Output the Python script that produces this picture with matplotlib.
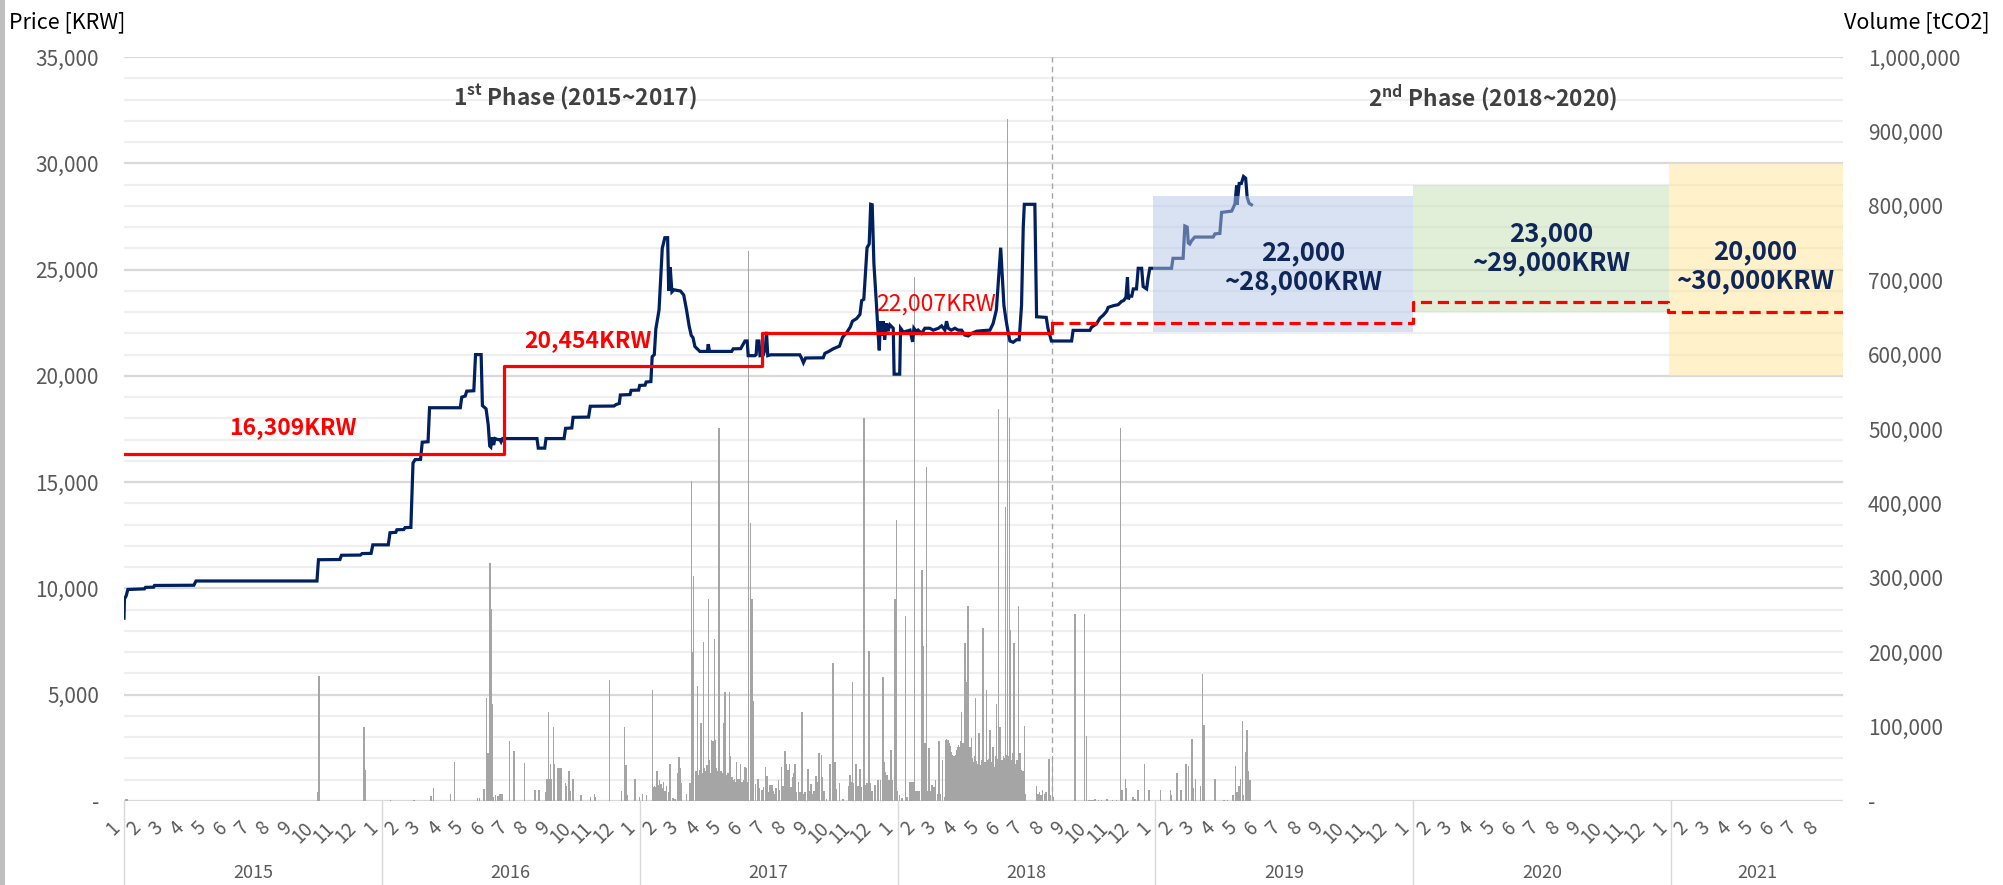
import matplotlib
matplotlib.use('Agg')
import matplotlib.pyplot as plt
import matplotlib.ticker as ticker
import matplotlib.transforms as mtransforms
from matplotlib.lines import Line2D
from matplotlib.patches import Rectangle

plt.rcParams['font.family'] = ['Noto Sans CJK KR', 'DejaVu Sans']

# time axis: months since 2015-01-01
years = ['2015', '2016', '2017', '2018', '2019', '2020', '2021']
year_start = [0, 12, 24, 36, 48, 60, 72]
year_end = [12, 24, 36, 48, 60, 72, 80]
months = ['1', '2', '3', '4', '5', '6', '7', '8', '9', '10', '11', '12']

# daily closing price [KRW]
price_t = [0.00, 0.02, 0.10, 0.18, 0.95, 1.00, 1.38, 1.42, 3.25, 3.35, 8.98, 9.05,
           10.05, 10.12, 11.00, 11.08, 11.50, 11.58, 12.30, 12.38, 12.65, 12.70,
           13.02, 13.08, 13.35, 13.45, 13.55, 13.80, 13.88, 14.15, 14.22, 15.65,
           15.72, 15.88, 15.95, 16.28, 16.36, 16.62, 16.68, 16.85, 16.95, 17.02,
           17.07, 17.12, 17.20, 17.27, 17.40, 17.50, 17.55, 17.62, 19.22, 19.28,
           19.58, 19.64, 20.48, 20.55, 20.84, 20.90, 21.62, 21.70, 22.80, 22.90,
           23.05, 23.10, 23.55, 23.60, 23.95, 24.00, 24.25, 24.30, 24.52, 24.58,
           24.68, 24.75, 24.90, 25.05, 25.17, 25.30, 25.35, 25.42, 25.50, 25.60,
           25.90, 26.05, 26.18, 26.30, 26.40, 26.48, 26.57, 26.65, 26.80, 27.15,
           27.19, 27.25, 28.28, 28.35, 28.70, 28.90, 29.00, 29.05, 29.36, 29.42,
           29.46, 29.55, 29.60, 29.75, 29.85, 29.90, 29.96, 30.10, 31.45, 31.53,
           31.62, 31.72, 32.54, 32.62, 32.80, 33.00, 33.30, 33.44, 33.63, 33.80,
           33.90, 34.10, 34.25, 34.33, 34.43, 34.48, 34.58, 34.68, 34.75, 34.82,
           34.90, 35.02, 35.10, 35.15, 35.20, 35.26, 35.33, 35.40, 35.48, 35.56,
           35.64, 35.80, 35.84, 36.10, 36.14, 36.27, 36.58, 36.70, 36.76, 36.89,
           36.96, 37.12, 37.27, 37.50, 37.66, 37.90, 38.05, 38.20, 38.28, 38.36,
           38.50, 38.67, 38.82, 38.98, 39.13, 39.29, 39.45, 39.68, 39.98, 40.30,
           40.45, 40.60, 40.72, 40.80, 40.88, 40.95, 41.04, 41.15, 41.23, 41.38,
           41.54, 41.66, 41.77, 41.85, 41.90, 42.39, 42.47, 42.92, 43.00, 43.16,
           44.10, 44.17, 44.95, 45.03, 45.26, 45.42, 45.57, 45.73, 45.80, 46.04,
           46.27, 46.42, 46.53, 46.63, 46.70, 46.74, 46.80, 46.90, 46.97, 47.12,
           47.20, 47.36, 47.43, 47.59, 47.66, 47.74, 48.75, 48.82, 49.29, 49.37,
           49.48, 49.53, 49.60, 49.68, 49.83, 50.69, 50.77, 51.00, 51.08, 51.55,
           51.70, 51.78, 51.80, 51.90, 52.00, 52.10, 52.20, 52.27, 52.36, 52.47]
price_krw = [8600, 9500, 9650, 9950, 9980, 10050, 10060, 10140, 10150, 10350, 10350, 11350,
             11360, 11560, 11570, 11640, 11650, 12050, 12050, 12620, 12640, 12760,
             12770, 12860, 12870, 15900, 16060, 16070, 16880, 16900, 18500, 18500,
             19000, 19050, 19280, 19300, 21000, 21000, 18600, 18450, 17700, 16700,
             16650, 17100, 16750, 17050, 17000, 17000, 16900, 17050, 17050, 16600,
             16600, 17050, 17050, 17530, 17550, 18050, 18060, 18570, 18580, 18650,
             18700, 19100, 19120, 19320, 19330, 19550, 19560, 19710, 19730, 20900,
             21000, 22200, 23100, 26000, 26500, 26500, 24000, 25100, 23950, 24050,
             23990, 23800, 23100, 22350, 21900, 21800, 21380, 21300, 21150, 21150,
             21490, 21150, 21150, 21270, 21280, 21640, 21640, 20950, 20950, 21000,
             21640, 21640, 20950, 20980, 21300, 22070, 20950, 20990, 20990, 20840,
             20620, 20840, 20850, 21060, 21150, 21270, 21400, 21810, 22030, 22300,
             22570, 22700, 22890, 23540, 23600, 24410, 26030, 26200, 28070, 28050,
             25270, 23320, 21900, 21200, 22570, 21900, 22570, 21710, 22470, 22100,
             22400, 22240, 20080, 20080, 22240, 22060, 22150, 21600, 22240, 22060,
             22150, 22000, 22240, 22240, 22150, 22240, 22350, 22150, 22570, 22240,
             22150, 22240, 22150, 22150, 21920, 21880, 22000, 22100, 22130, 22150,
             22470, 23110, 24840, 26030, 24630, 23320, 22680, 22030, 21640, 21580,
             21700, 21700, 23320, 27000, 28070, 28070, 22780, 22750, 22240, 21640,
             21640, 22140, 22140, 22290, 22450, 22720, 22850, 23040, 23220, 23300,
             23350, 23500, 23550, 23700, 24630, 23600, 23750, 23750, 24090, 24090,
             25060, 25060, 24200, 24090, 24600, 25060, 25060, 25530, 25530, 27050,
             27000, 26250, 26200, 26350, 26530, 26530, 26680, 26700, 27690, 27750,
             28080, 28950, 28050, 29050, 29050, 29380, 29300, 28400, 28120, 28050]

# daily traded volume [thousand tCO2]
vol_t = [0.10, 0.15, 9.02, 9.07, 11.17, 11.22,
         12.40, 13.50, 14.28, 14.40, 15.20, 15.37, 16.45, 16.55, 16.75, 16.87, 16.95,
         17.03, 17.08, 17.15, 17.20, 17.30, 17.40, 17.50, 17.60, 17.93, 18.15, 18.63,
         19.12, 19.32, 19.62, 19.67, 19.72, 19.75, 19.80, 19.85, 19.90, 19.98, 20.02,
         20.20, 20.25, 20.30, 20.37, 20.55, 20.60, 20.70, 20.75, 20.90, 21.27, 21.70,
         21.90, 21.95, 22.60, 23.16, 23.30, 23.36, 23.42, 23.78,
         23.98, 24.13, 24.32, 24.60, 24.66, 24.70, 24.75, 24.80, 24.87, 24.93, 25.00,
         25.06, 25.10, 25.17, 25.25, 25.35, 25.40, 25.56, 25.64, 25.77, 25.82, 25.87,
         25.95, 26.18, 26.34, 26.40, 26.45, 26.50, 26.68, 26.77, 26.85, 26.96, 27.03,
         27.10, 27.20, 27.27, 27.33, 27.40, 27.47, 27.53, 27.58, 27.68, 27.78, 27.90,
         27.97, 28.04, 28.17, 28.23, 28.30, 28.50, 28.58, 28.70, 28.80, 28.90, 28.97,
         29.07, 29.15, 29.22, 29.30, 29.40, 29.50, 29.57, 29.70, 29.75, 29.86, 29.92,
         30.00, 30.06, 30.15, 30.20, 30.30, 30.35, 30.45, 30.50, 30.60, 30.68, 30.76,
         30.84, 30.90, 30.97, 31.03, 31.10, 31.17, 31.23, 31.30, 31.38, 31.45, 31.56,
         31.63, 31.70, 31.84, 31.90, 31.97, 32.05, 32.12, 32.20, 32.27, 32.34, 32.45,
         32.50, 32.58, 32.70, 32.85, 33.00, 33.08, 33.15, 33.30, 33.45, 33.72, 33.78,
         33.85, 33.90, 33.95, 34.07, 34.15, 34.25, 34.30, 34.43, 34.50, 34.57, 34.68,
         34.75, 34.80, 34.95, 35.10, 35.20, 35.33, 35.38, 35.45, 35.50, 35.56, 35.62,
         35.70, 35.75, 35.87, 35.94,
         36.00, 36.10, 36.20, 36.37, 36.45, 36.57, 36.65, 36.73, 36.78, 36.85, 36.95,
         37.03, 37.13, 37.20, 37.27, 37.34, 37.40, 37.47, 37.53, 37.60, 37.70, 37.77,
         37.85, 37.92, 37.98, 38.10, 38.20, 38.25, 38.30, 38.35, 38.42, 38.47, 38.55,
         38.60, 38.67, 38.72, 38.80, 38.87, 38.93, 38.98, 39.05, 39.13, 39.20, 39.28,
         39.36, 39.45, 39.52, 39.58, 39.63, 39.70, 39.80, 39.87, 39.93, 39.98, 40.05,
         40.14, 40.20, 40.30, 40.38, 40.45, 40.52, 40.60, 40.70, 40.76, 40.83, 40.90,
         40.95, 41.03, 41.12, 41.20, 41.26, 41.32, 41.38, 41.43, 41.50, 41.56, 41.64,
         41.70, 41.80, 41.90, 41.95, 42.47, 42.53, 42.60, 42.67, 42.75, 42.85, 42.92,
         43.05, 43.12, 43.20, 43.26, 44.25, 44.70, 44.80, 44.90, 45.00, 45.10, 45.20,
         45.35, 45.50, 45.75, 46.00, 46.20, 46.37, 46.45, 46.60, 46.65, 46.96, 47.05,
         47.20, 47.50, 47.70,
         48.24, 48.70, 48.75, 49.00, 49.20, 49.40, 49.45, 49.55, 49.70, 49.75, 49.87,
         50.10, 50.20, 50.27, 50.77, 51.20, 51.35, 51.60, 51.73, 51.80, 51.90, 51.95,
         52.05, 52.10, 52.20, 52.26, 52.34, 52.40]
vol_kt = [3, 3, 12, 168, 100, 41,
          2, 2, 7, 17, 10, 53, 4, 4, 16, 138, 65,
          320, 258, 131, 6, 8, 7, 9, 10, 81, 67, 51,
          15, 15, 12, 29, 29, 119, 29, 50, 29, 100, 50,
          45, 45, 45, 45, 24, 20, 40, 14, 29, 8, 6,
          10, 6, 162, 14, 100, 48, 8, 29,
          6, 10, 8, 149, 19, 20, 19, 40, 22, 28, 23,
          17, 25, 14, 20, 12, 50, 4, 3, 37, 59, 44,
          24, 10, 24, 430, 200, 302, 154, 17, 105, 214, 15,
          31, 271, 37, 82, 80, 218, 75, 35, 501, 40, 105,
          147, 35, 146, 60, 32, 52, 30, 50, 23, 46, 44,
          739, 373, 271, 135, 23, 30, 18, 15, 19, 46, 33,
          12, 21, 21, 14, 10, 17, 28, 15, 46, 20, 67,
          50, 42, 50, 19, 32, 37, 50, 12, 25, 12, 119,
          10, 12, 43, 14, 23, 10, 14, 33, 25, 65, 62,
          32, 14, 3, 50, 186, 52, 16, 24, 3, 20, 35,
          25, 160, 24, 50, 20, 43, 19, 515, 21, 24, 202,
          24, 14, 22, 28, 28, 166, 53, 39, 35, 28, 28,
          68, 28, 271, 378,
          14, 8, 4, 249, 5, 26, 26, 26, 704, 14, 14,
          14, 311, 209, 78, 449, 14, 71, 14, 21, 19, 28,
          10, 80, 10, 55, 5, 82, 80, 82, 78, 70, 62,
          55, 52, 62, 73, 70, 78, 119, 78, 212, 160, 262,
          73, 85, 19, 60, 139, 47, 91, 48, 55, 232, 45,
          149, 55, 95, 41, 73, 33, 130, 527, 100, 55, 50,
          55, 395, 917, 515, 230, 55, 65, 212, 37, 55, 262,
          64, 32, 101, 10, 20, 10, 12, 8, 15, 10, 12,
          57, 8, 60, 5, 252, 252, 88, 2, 2, 2, 3,
          2, 2, 3, 2, 2, 501, 15, 29, 18, 5, 3,
          15, 50, 15,
          15, 15, 8, 37, 15, 50, 50, 47, 84, 18, 30,
          20, 171, 102, 30, 2, 2, 8, 47, 12, 20, 30,
          108, 8, 66, 95, 40, 28]

# busy trading days between the spikes (spring 2017, spring 2018) [thousand tCO2]
busy_t = [26.62, 26.72, 26.80, 26.90, 27.00, 27.06, 27.14, 27.24, 27.36, 27.43,
          27.50, 27.56, 27.62, 27.72, 27.82, 27.86, 27.94, 28.00, 28.08, 28.12,
          28.20, 28.27, 28.35, 28.42, 28.46, 28.54, 28.62, 28.66, 28.75, 28.85,
          28.93, 29.02,
          38.22, 38.28, 38.32, 38.38, 38.45, 38.50, 38.58, 38.63, 38.70, 38.76,
          38.83, 38.90, 38.96, 39.02, 39.09, 39.17, 39.24, 39.32, 39.40, 39.48,
          39.55, 39.61, 39.67, 39.74, 39.77, 39.84, 39.90, 39.96, 40.02, 40.08,
          40.11, 40.17, 40.24, 40.27, 40.34, 40.42, 40.49, 40.56, 40.64, 40.67,
          40.73, 40.80, 40.86, 40.93, 40.99, 41.06, 41.09, 41.16, 41.23, 41.29,
          41.35, 41.41, 41.46, 41.53, 41.59, 41.61, 41.67, 41.73, 41.77, 41.84,
          41.87]
busy_kt = [40, 35, 42, 38, 45, 40, 48, 55, 80, 78,
           82, 45, 40, 42, 36, 38, 40, 35, 33, 38,
           34, 30, 28, 30, 26, 30, 28, 30, 25, 28,
           22, 25,
           78, 84, 76, 80, 74, 66, 58, 60, 57, 68,
           75, 72, 80, 76, 74, 70, 66, 68, 62, 58,
           52, 58, 54, 50, 56, 46, 52, 50, 48, 52,
           44, 50, 56, 48, 52, 58, 46, 60, 56, 50,
           62, 58, 55, 60, 58, 62, 56, 60, 58, 52,
           54, 58, 50, 52, 48, 55, 50, 44, 42, 40,
           38]

# compliance-period average prices (solid) and later yearly averages (dashed)
avg_start = [0.0, 17.7, 29.67]
avg_end = [17.7, 29.67, 43.17]
avg_price = [16309, 20454, 22007]
avg_label = ['16,309KRW', '20,454KRW', '22,007KRW']
avg2_start = [43.17, 60.0, 71.85]
avg2_end = [60.0, 71.85, 80.0]
avg2_price = [22500, 23470, 23000]

# price range boxes
rng_start = [47.9, 60.0, 71.9]
rng_end = [60.0, 71.9, 80.0]
rng_low = [22050, 23000, 20000]
rng_high = [28450, 29000, 30000]
rng_color = ['#B4C7E7', '#C5E0B4', '#FFE699']
rng_label = ['22,000\n~28,000KRW', '23,000\n~29,000KRW', '20,000\n~30,000KRW']

phase_split = 43.2

fig = plt.figure(figsize=(20.03, 8.85), dpi=100)
fig.patch.set_facecolor('white')
ax = fig.add_axes([124 / 2003, 84 / 885, 1719 / 2003, 744 / 885])
ax2 = ax.twinx()
ax.set_zorder(2)
ax2.set_zorder(1)
ax.patch.set_visible(False)

ax.set_xlim(0, 80)
ax.set_ylim(0, 35000)
ax2.set_ylim(0, 1000000)

# gridlines live on the lower (volume) axes so bars sit on top of them
grid_tr = mtransforms.blended_transform_factory(ax2.transAxes, ax.transData)
for p in range(0, 35001, 1000):
    major = p % 5000 == 0
    ax2.add_artist(Line2D([0, 1], [p, p], transform=grid_tr,
                          color='#D9D9D9' if major else '#EFEFEF',
                          lw=1.6, zorder=0))

# volume bars
ax2.bar(busy_t, [v * 1000 for v in busy_kt], width=0.07, color='#A5A5A5',
        linewidth=0, zorder=1)
ax2.bar(vol_t, [v * 1000 for v in vol_kt], width=0.07, color='#A5A5A5',
        linewidth=0, zorder=1)

# price line
ax.plot(price_t, price_krw, color='#002060', lw=2.3, zorder=2, solid_joinstyle='miter')

# range boxes (semi-transparent, above the price line)
for s, e, lo, hi, c in zip(rng_start, rng_end, rng_low, rng_high, rng_color):
    ax.add_patch(Rectangle((s, lo), e - s, hi - lo, facecolor=c, alpha=0.5,
                           lw=0, zorder=3))

# average price steps
sx, sy = [], []
for s, e, p in zip(avg_start, avg_end, avg_price):
    sx += [s, e]
    sy += [p, p]
sx.append(avg2_start[0])
sy.append(avg2_price[0])
ax.plot(sx, sy, color='#FF0000', lw=2.3, zorder=4)
dx, dy = [], []
for s, e, p in zip(avg2_start, avg2_end, avg2_price):
    dx += [s, e]
    dy += [p, p]
ax.plot(dx, dy, color='#FF0000', lw=2.3, ls=(0, (3.5, 1.8)), zorder=4)

# phase separator
ax.axvline(phase_split, color='#A6A6A6', lw=1, ls=(0, (4, 3)), zorder=1.5)

# texts
ax.text(21.0, 33100, r'1$^{\mathregular{st}}$ Phase (2015~2017)', ha='center', va='center',
        fontsize=16.3, fontweight='bold', color='#404040')
ax.text(63.7, 33100, r'2$^{\mathregular{nd}}$ Phase (2018~2020)', ha='center', va='center',
        fontsize=16.3, fontweight='bold', color='#404040')
lab_pos = [(7.86, 17570), (21.6, 21670), (37.8, 23360)]
lab_weight = ['bold', 'bold', 'medium']
for (x, y), t, w in zip(lab_pos, avg_label, lab_weight):
    ax.text(x, y, t, ha='center', va='center', fontsize=16.5, fontweight=w,
            color='#FF0000', zorder=5)
box_pos = [(54.86, 25100), (66.4, 26020), (75.9, 25170)]
for (x, y), t in zip(box_pos, rng_label):
    ax.text(x, y, t, ha='center', va='center', fontsize=18.5, fontweight='bold',
            color='#0E2659', linespacing=1.1, zorder=5)

# axes styling
for a in (ax, ax2):
    for sp in a.spines.values():
        sp.set_visible(False)

ax.yaxis.set_major_locator(ticker.MultipleLocator(5000))
ax2.yaxis.set_major_locator(ticker.MultipleLocator(100000))
fmt = ticker.FuncFormatter(lambda v, pos: '-' if v == 0 else '{:,.0f}'.format(v))
ax.yaxis.set_major_formatter(fmt)
ax2.yaxis.set_major_formatter(fmt)
ax.tick_params(axis='y', length=0, pad=18, labelsize=15, labelcolor='#595959')
ax2.tick_params(axis='y', length=0, pad=18, labelsize=15, labelcolor='#595959')

month_labels = months * 6 + months[:8]
ax.set_xticks(range(len(month_labels)))
ax.set_xticklabels(month_labels)
ax.tick_params(axis='x', length=0, pad=12, labelsize=13.5, labelcolor='#595959')
plt.setp(ax.get_xticklabels(), rotation=45, ha='right', va='top')

sep_tr = mtransforms.blended_transform_factory(ax.transData, ax.transAxes)
for s in year_start:
    ax.plot([s, s], [0, -0.115], transform=sep_tr, color='#D9D9D9', lw=1,
            clip_on=False)
for yr, s, e in zip(years, year_start, year_end):
    ax.text((s + e) / 2, -0.0965, yr, transform=sep_tr, ha='center', va='center',
            fontsize=13, color='#595959')

fig.text(9 / 2003, 1 - 22 / 885, 'Price [KRW]', ha='left', va='center',
         fontsize=15.5, color='#000000')
fig.text(1990 / 2003, 1 - 22 / 885, 'Volume [tCO2]', ha='right', va='center',
         fontsize=15.5, color='#000000')

# screenshot frame edge on the left
fig.add_artist(Rectangle((0, 0), 5 / 2003, 1, transform=fig.transFigure,
                         facecolor='#BFBFBF', lw=0))

fig.savefig('out.png', dpi=100)
